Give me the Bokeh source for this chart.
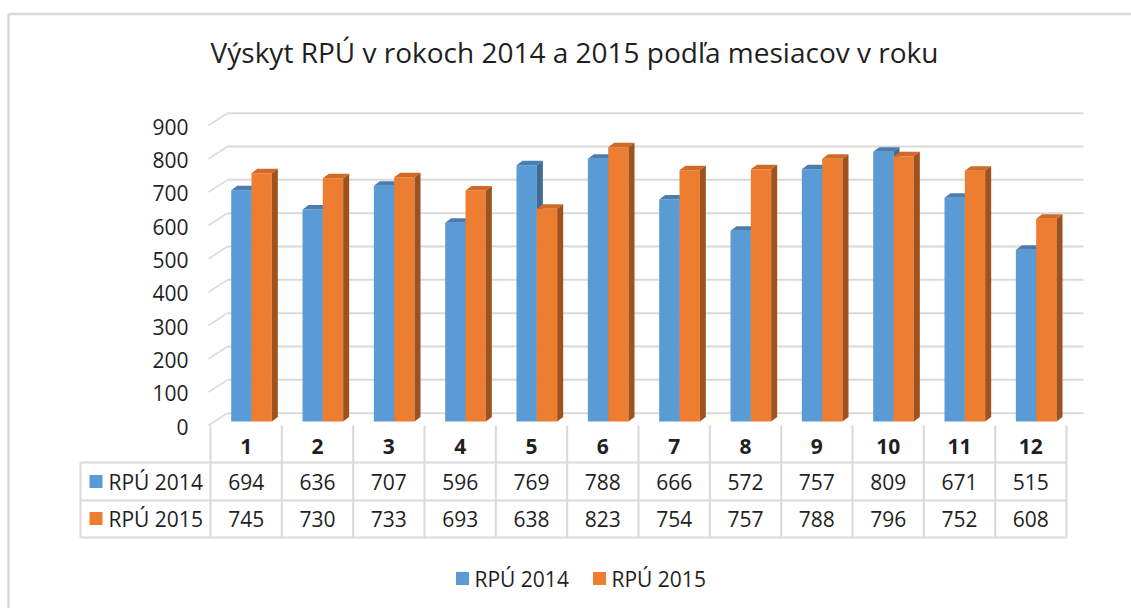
from bokeh.plotting import figure
from bokeh.models import Range1d
from bokeh.embed import file_html
from bokeh.resources import INLINE
from bokeh.core.properties import value

# ---------------- data ----------------
title_text = "Výskyt RPÚ v rokoch 2014 a 2015 podľa mesiacov v roku"
months = ["1", "2", "3", "4", "5", "6", "7", "8", "9", "10", "11", "12"]
rpu_2014 = [694, 636, 707, 596, 769, 788, 666, 572, 757, 809, 671, 515]
rpu_2015 = [745, 730, 733, 693, 638, 823, 754, 757, 788, 796, 752, 608]
series_names = ["RPÚ 2014", "RPÚ 2015"]
y_ticks = [0, 100, 200, 300, 400, 500, 600, 700, 800, 900]

# ---------------- layout helpers ----------------
W, H = 1131, 608
X0PX = 210.0      # px of the left edge of category 0
UX = 71.333       # px per category
Y0PX = 421.0      # px of value 0 (front plane)
UY = 3.0          # value units per px

def fx(px):
    return (px - X0PX) / UX

def fy(py):
    return (Y0PX - py) * UY

FONT = "Open Sans"
FS = "21px"
TXT = "#1f1f1f"
GRID = "#d9d9d9"
BLUE, BLUE_TOP, BLUE_SIDE = "#5b9bd5", "#4a7db0", "#3e6b98"
ORANGE, ORANGE_TOP, ORANGE_SIDE = "#ed7d31", "#cf6a27", "#a0521e"
SERIES_COLORS = [BLUE, ORANGE]

p = figure(width=W, height=H, x_range=Range1d(fx(0), fx(W)),
           y_range=Range1d(fy(H), fy(0)), min_border=0,
           toolbar_location=None, output_backend="svg")
p.axis.visible = False
p.grid.visible = False
p.outline_line_color = None
p.background_fill_color = "white"

# outer chart border (left + top visible)
p.segment(x0=[fx(8), fx(8)], y0=[fy(13.5), fy(13.5)], x1=[fx(W), fx(8)], y1=[fy(13.5), fy(H)],
          line_color=GRID, line_width=2.5)

# title
p.text(x=[fx(574)], y=[fy(51)], text=[title_text], text_font=value(FONT),
       text_font_size="28px", text_color=TXT, text_align="center", text_baseline="middle")

# ---------------- back wall gridlines ----------------
BACK_DY = 25.0
gx0, gx1 = fx(227), fx(1083)
p.segment(x0=[gx0] * len(y_ticks), y0=[v + BACK_DY for v in y_ticks],
          x1=[gx1] * len(y_ticks), y1=[v + BACK_DY for v in y_ticks],
          line_color=GRID, line_width=2)
# left wall diagonals
p.segment(x0=[fx(208)] * len(y_ticks), y0=[v - 12 for v in y_ticks],
          x1=[gx0] * len(y_ticks), y1=[v + BACK_DY for v in y_ticks],
          line_color=GRID, line_width=1.5)

# y tick labels
p.text(x=[fx(188)] * len(y_ticks), y=[v - 15 for v in y_ticks], text=[str(v) for v in y_ticks],
       text_font=value(FONT), text_font_size=FS, text_color=TXT,
       text_align="right", text_baseline="middle")

# ---------------- 3D bars ----------------
dx = 6.0 / UX
dy = 4.5 * UY
idx = list(range(len(months)))
bl = [i + 0.29 for i in idx]
bm = [i + 0.575 for i in idx]
br = [i + 0.86 for i in idx]

def faces(left, right, vals):
    tops_x, tops_y, sides_x, sides_y = [], [], [], []
    for l, r, v in zip(left, right, vals):
        tops_x.append([l, r, r + dx, l + dx])
        tops_y.append([v, v, v + dy, v + dy])
        sides_x.append([r, r, r + dx, r + dx])
        sides_y.append([0, v, v + dy, dy])
    return tops_x, tops_y, sides_x, sides_y

btx, bty, bsx, bsy = faces(bl, bm, rpu_2014)
otx, oty, osx, osy = faces(bm, br, rpu_2015)

p.quad(left=bl, right=bm, bottom=[0] * len(idx), top=rpu_2014,
       fill_color=BLUE, line_color=None)
p.patches(xs=btx, ys=bty, fill_color=BLUE_TOP, line_color=None)
p.patches(xs=bsx, ys=bsy, fill_color=BLUE_SIDE, line_color=None)
p.quad(left=bm, right=br, bottom=[0] * len(idx), top=rpu_2015,
       fill_color=ORANGE, line_color=None)
p.patches(xs=otx, ys=oty, fill_color=ORANGE_TOP, line_color=None)
p.patches(xs=osx, ys=osy, fill_color=ORANGE_SIDE, line_color=None)

# ---------------- data table ----------------
t_left = fx(80)
t_right = float(len(months))
y_head = fy(446)
y_r1 = fy(481)
y_r2 = fy(518)
h1, h2, h3 = fy(462), fy(500), fy(537)
v_top = fy(425)

p.segment(x0=[t_left] * 3, y0=[h1, h2, h3], x1=[t_right] * 3, y1=[h1, h2, h3],
          line_color=GRID, line_width=2)
p.segment(x0=idx + [len(months)], y0=[v_top] * (len(months) + 1),
          x1=idx + [len(months)], y1=[h3] * (len(months) + 1),
          line_color=GRID, line_width=2)
p.segment(x0=[t_left], y0=[h1], x1=[t_left], y1=[h3], line_color=GRID, line_width=2)

centers = [i + 0.5 for i in idx]
p.text(x=centers, y=[y_head] * len(idx), text=months, text_font=value(FONT),
       text_font_size=FS, text_font_style="bold", text_color=TXT,
       text_align="center", text_baseline="middle")
p.text(x=centers, y=[y_r1] * len(idx), text=[str(v) for v in rpu_2014], text_font=value(FONT),
       text_font_size=FS, text_color=TXT, text_align="center", text_baseline="middle")
p.text(x=centers, y=[y_r2] * len(idx), text=[str(v) for v in rpu_2015], text_font=value(FONT),
       text_font_size=FS, text_color=TXT, text_align="center", text_baseline="middle")

# row headers with key squares
p.rect(x=[fx(95.5), fx(95.5)], y=[y_r1, y_r2], width=13, height=13,
       width_units="screen", height_units="screen",
       fill_color=SERIES_COLORS, line_color=None)
p.text(x=[fx(108), fx(108)], y=[y_r1, y_r2], text=series_names, text_font=value(FONT),
       text_font_size=FS, text_color=TXT, text_align="left", text_baseline="middle")

# ---------------- legend (bottom) ----------------
y_leg = fy(578)
p.rect(x=[fx(462), fx(599)], y=[y_leg, y_leg], width=13, height=13,
       width_units="screen", height_units="screen",
       fill_color=SERIES_COLORS, line_color=None)
p.text(x=[fx(474), fx(611)], y=[y_leg, y_leg], text=series_names, text_font=value(FONT),
       text_font_size=FS, text_color=TXT, text_align="left", text_baseline="middle")

open("out.html", "w").write(file_html(p, INLINE))
